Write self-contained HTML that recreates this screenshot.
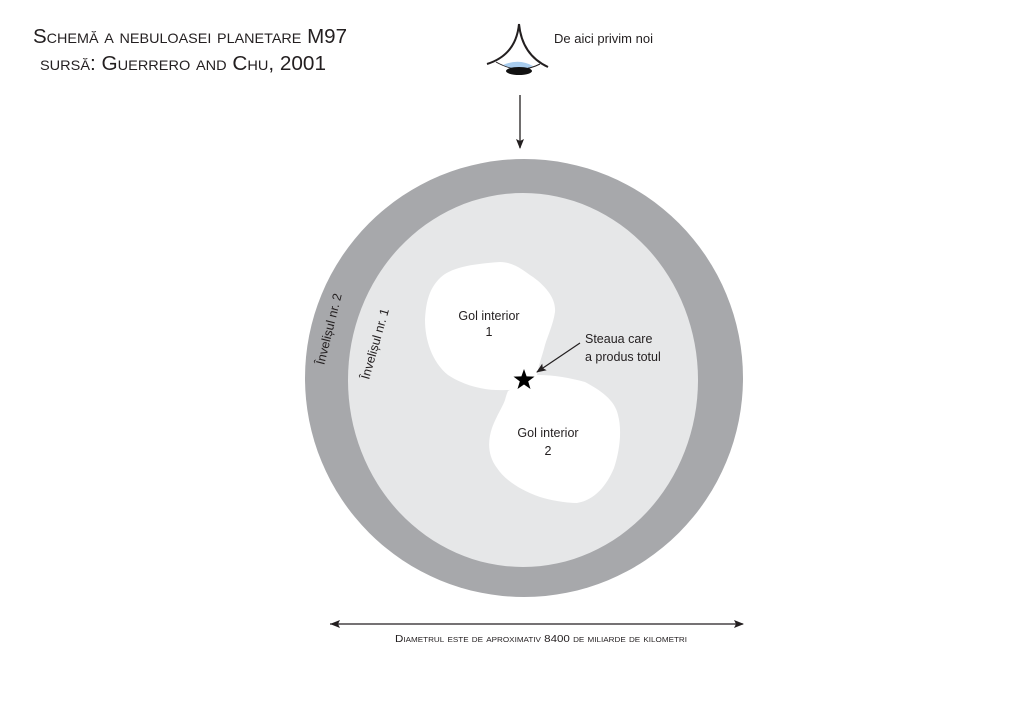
<!DOCTYPE html>
<html><head><meta charset="utf-8"><style>
html,body{margin:0;padding:0;background:#fff;}
svg{display:block;}
text{font-family:"Liberation Sans",sans-serif;fill:#231f20;}
.sc{font-variant:small-caps;}
</style></head><body>
<svg width="1024" height="724" viewBox="0 0 1024 724" xmlns="http://www.w3.org/2000/svg">
<defs>
<marker id="ah" markerWidth="10" markerHeight="10" refX="9" refY="5" orient="auto" markerUnits="userSpaceOnUse">
<path d="M0,1 L10,5 L0,9 L2,5 Z" fill="#231f20"/></marker>
<marker id="ahs" markerWidth="10" markerHeight="10" refX="0" refY="5" orient="auto" markerUnits="userSpaceOnUse">
<path d="M10,1 L0,5 L10,9 L8,5 Z" fill="#231f20"/></marker>
</defs>
<text x="33" y="43" font-size="20" class="sc" textLength="314" lengthAdjust="spacingAndGlyphs">Schemă a nebuloasei planetare M97</text>
<text x="40" y="70" font-size="20" class="sc" textLength="286" lengthAdjust="spacingAndGlyphs">sursă: Guerrero and Chu, 2001</text>

<!-- eye -->
<path d="M519,24 Q516,55 487,64" fill="none" stroke="#231f20" stroke-width="2"/>
<path d="M519,24 Q522,55 548,67" fill="none" stroke="#231f20" stroke-width="2"/>
<path d="M496,62 Q519,75 540,64" fill="none" stroke="#231f20" stroke-width="1"/>
<path d="M503,65 Q519,58 533,66 Q519,72 503,65Z" fill="#a9cdee"/>
<ellipse cx="519" cy="71" rx="13" ry="4" fill="#111"/>
<text x="554" y="43" font-size="13">De aici privim noi</text>
<line x1="520" y1="95" x2="520" y2="148" stroke="#231f20" stroke-width="1.3" marker-end="url(#ah)"/>

<!-- circles -->
<ellipse cx="524" cy="378" rx="219" ry="219" fill="#a7a8ab"/>
<ellipse cx="523" cy="380" rx="175" ry="187" fill="#e6e7e8"/>
<path d="M500,262 C515,262 525,272 533,277 C548,288 556,300 555,312 C553,325 548,335 545,345 C542,357 538,366 537,376 C525,388 515,390 507,390 C490,391 468,388 448,375 C432,362 425,340 425,320 C426,300 430,288 440,278 C450,268 470,264 500,262Z" fill="#fff"/>
<path d="M537,375 C555,375 570,378 585,382 C600,390 615,400 618,415 C622,430 620,450 614,468 C607,485 595,500 577,503 C565,503 550,500 540,497 C520,490 505,480 497,468 C487,455 488,440 492,428 C497,415 502,408 505,400 C506,396 507,393 508,391Z" fill="#fff"/>

<text x="489" y="320" font-size="12.5" text-anchor="middle">Gol interior</text>
<text x="489" y="336" font-size="12.5" text-anchor="middle">1</text>
<text x="548" y="437" font-size="12.5" text-anchor="middle">Gol interior</text>
<text x="548" y="455" font-size="12.5" text-anchor="middle">2</text>
<text x="585" y="343" font-size="12.5">Steaua care</text>
<text x="585" y="361" font-size="12.5">a produs totul</text>
<line x1="580" y1="343" x2="537" y2="372" stroke="#231f20" stroke-width="1.2" marker-end="url(#ah)"/>
<polygon points="524,369 526.6,376.4 534.5,376.6 528.2,381.4 530.5,389 524,384.5 517.5,389 519.8,381.4 513.5,376.6 521.4,376.4" fill="#000"/>

<text transform="translate(333,330) rotate(-76)" font-size="12.5" text-anchor="middle">Învelișul nr. 2</text>
<text transform="translate(379,345) rotate(-74)" font-size="12.5" text-anchor="middle">Învelișul nr. 1</text>

<!-- diameter -->
<line x1="330" y1="624" x2="743" y2="624" stroke="#231f20" stroke-width="1.2" marker-end="url(#ah)" marker-start="url(#ahs)"/>
<text x="395" y="642" font-size="10" class="sc" textLength="292" lengthAdjust="spacingAndGlyphs">Diametrul este de aproximativ 8400 de miliarde de kilometri</text>
</svg>
</body></html>
